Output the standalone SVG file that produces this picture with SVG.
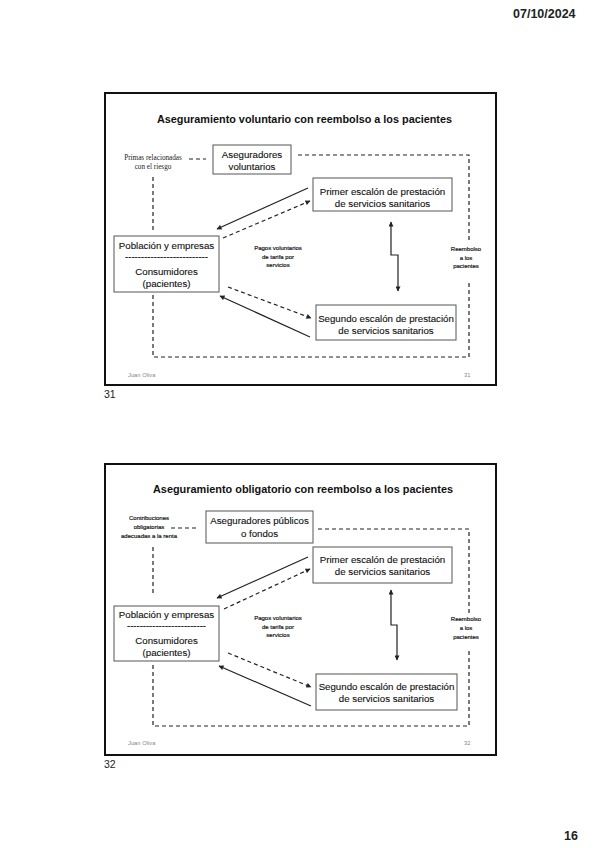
<svg xmlns="http://www.w3.org/2000/svg" width="599" height="848" viewBox="0 0 599 848">
<style>
.frame{fill:#fff;stroke:#111;stroke-width:2}
.box{fill:#fff;stroke:#555;stroke-width:1}
.title{font-family:"Liberation Sans",Arial,sans-serif;font-weight:bold;font-size:10.5px;fill:#111;text-anchor:middle}
.bt{font-family:"Liberation Sans",Arial,sans-serif;font-size:9.7px;fill:#111;text-anchor:middle;stroke:#111;stroke-width:0.12}
.sm{font-family:"Liberation Sans",Arial,sans-serif;font-size:6px;fill:#111;text-anchor:middle;stroke:#111;stroke-width:0.18}
.serif{font-family:"Liberation Serif","Times New Roman",serif;font-size:7.2px;fill:#222;text-anchor:middle}
.foot{font-family:"Liberation Sans",Arial,sans-serif;font-size:5.8px;fill:#888}
.pg{font-family:"Liberation Sans",Arial,sans-serif;font-size:10.5px;fill:#222}
.hdr{font-family:"Liberation Sans",Arial,sans-serif;font-weight:bold;font-size:12.5px;fill:#222}
.dash{fill:none;stroke:#222;stroke-width:1.2;stroke-dasharray:4 3}
.sol{fill:none;stroke:#222;stroke-width:1.2}
</style>
<defs>
<marker id="ah" viewBox="0 0 10 10" refX="9" refY="5" markerWidth="6" markerHeight="5" markerUnits="userSpaceOnUse" orient="auto-start-reverse">
<path d="M0,0 L10,5 L0,10 z" fill="#222"/>
</marker>
</defs>
<rect width="599" height="848" fill="#fff"/>
<text class="hdr" x="513" y="18">07/10/2024</text>
<text class="hdr" x="564" y="840" font-size="12px">16</text>

<!-- Slide 31 -->
<g id="slide31">
<rect class="frame" x="105" y="93" width="391" height="292"/>
<text class="title" x="304.5" y="123" textLength="295" lengthAdjust="spacingAndGlyphs">Aseguramiento voluntario con reembolso a los pacientes</text>
<text class="foot" x="128" y="377">Juan Oliva</text>
<text class="foot" x="464" y="377" font-size="5px">31</text>
</g>
<text class="pg" x="104" y="398">31</text>

<g id="s1-connectors">
<line class="dash" x1="189" y1="159" x2="206" y2="159"/>
<line class="dash" x1="153" y1="177" x2="153" y2="231"/>
<polyline class="dash" points="153,295 153,357 469,357 469,280"/>
<polyline class="dash" points="469,240 469,155 298,155"/>
<polyline class="sol" points="391,222 391,255 398,255 398,291" marker-start="url(#ah)" marker-end="url(#ah)"/>
<line class="sol" x1="308" y1="188" x2="217" y2="229" marker-end="url(#ah)"/>
<line class="dash" x1="223" y1="238" x2="310" y2="201" marker-end="url(#ah)"/>
<line class="dash" x1="228" y1="287" x2="311" y2="318" marker-end="url(#ah)"/>
<line class="sol" x1="310" y1="337" x2="220" y2="296" marker-end="url(#ah)"/>
</g>

<g id="s1-aseguradores">
<rect class="box" x="213" y="145" width="78" height="29"/>
<text class="bt" x="252" y="158" font-size="10.3px">Aseguradores</text>
<text class="bt" x="252" y="169.5" font-size="10.3px">voluntarios</text>
</g>
<g id="s1-primas">
<text class="serif" x="153" y="160">Primas relacionadas</text>
<text class="serif" x="153" y="169">con el riesgo</text>
</g>
<g id="s1-poblacion">
<rect class="box" x="114" y="236" width="105" height="56"/>
<text class="bt" x="166.5" y="248.5">Población y empresas</text>
<text class="bt" x="166.5" y="260" textLength="83" lengthAdjust="spacingAndGlyphs">--------------------------</text>
<text class="bt" x="166.5" y="275">Consumidores</text>
<text class="bt" x="166.5" y="286.5">(pacientes)</text>
</g>
<g id="s1-primer">
<rect class="box" x="313" y="178" width="139" height="33"/>
<text class="bt" x="382.5" y="195">Primer escalón de prestación</text>
<text class="bt" x="382.5" y="206.5">de servicios sanitarios</text>
</g>
<g id="s1-segundo">
<rect class="box" x="316" y="305" width="140" height="35"/>
<text class="bt" x="386" y="322">Segundo escalón de prestación</text>
<text class="bt" x="386" y="333.5">de servicios sanitarios</text>
</g>
<g id="s1-pagos">
<text class="sm" x="278" y="250">Pagos voluntarios</text>
<text class="sm" x="278" y="258.5">de tarifa por</text>
<text class="sm" x="278" y="267">servicios</text>
</g>
<g id="s1-reembolso">
<text class="sm" x="466" y="251" font-size="6.5px">Reembolso</text>
<text class="sm" x="466" y="259.5" font-size="6.5px">a los</text>
<text class="sm" x="466" y="268" font-size="6.5px">pacientes</text>
</g>

<!-- Slide 32 -->
<g id="slide32">
<rect class="frame" x="105" y="464" width="391" height="291"/>
<text class="title" x="303" y="493" textLength="300" lengthAdjust="spacingAndGlyphs">Aseguramiento obligatorio con reembolso a los pacientes</text>
<text class="foot" x="128" y="745">Juan Oliva</text>
<text class="foot" x="464" y="745" font-size="5px">32</text>
</g>
<text class="pg" x="104" y="768">32</text>

<g id="s2-connectors">
<line class="dash" x1="171" y1="528" x2="197" y2="528"/>
<line class="dash" x1="153" y1="547" x2="153" y2="596"/>
<polyline class="dash" points="153,665 153,726 469,726 469,648"/>
<polyline class="dash" points="469,613 469,529 318,529"/>
<polyline class="sol" points="391,590 391,625 397,625 397,660" marker-start="url(#ah)" marker-end="url(#ah)"/>
<line class="sol" x1="308" y1="557" x2="217" y2="598" marker-end="url(#ah)"/>
<line class="dash" x1="224" y1="609" x2="310" y2="569" marker-end="url(#ah)"/>
<line class="dash" x1="228" y1="653" x2="311" y2="687" marker-end="url(#ah)"/>
<line class="sol" x1="311" y1="706" x2="219" y2="666" marker-end="url(#ah)"/>
</g>

<g id="s2-aseguradores">
<rect class="box" x="206" y="511" width="107" height="32"/>
<text class="bt" x="259.5" y="524" font-size="10px">Aseguradores públicos</text>
<text class="bt" x="259.5" y="537" font-size="10px">o fondos</text>
</g>
<g id="s2-contribuciones">
<text class="sm" x="149" y="520">Contribuciones</text>
<text class="sm" x="149" y="529">obligatorias</text>
<text class="sm" x="149" y="538">adecuadas a la renta</text>
</g>
<g id="s2-poblacion">
<rect class="box" x="114" y="606" width="105" height="55"/>
<text class="bt" x="166.5" y="618">Población y empresas</text>
<text class="bt" x="166.5" y="629" textLength="79" lengthAdjust="spacingAndGlyphs">-------------------------</text>
<text class="bt" x="166.5" y="644">Consumidores</text>
<text class="bt" x="166.5" y="656">(pacientes)</text>
</g>
<g id="s2-primer">
<rect class="box" x="313" y="547" width="139" height="36"/>
<text class="bt" x="382.5" y="562.5">Primer escalón de prestación</text>
<text class="bt" x="382.5" y="575">de servicios sanitarios</text>
</g>
<g id="s2-segundo">
<rect class="box" x="316" y="674" width="141" height="36"/>
<text class="bt" x="386.5" y="689.5">Segundo escalón de prestación</text>
<text class="bt" x="386.5" y="702">de servicios sanitarios</text>
</g>
<g id="s2-pagos">
<text class="sm" x="278" y="620">Pagos voluntarios</text>
<text class="sm" x="278" y="628.5">de tarifa por</text>
<text class="sm" x="278" y="637">servicios</text>
</g>
<g id="s2-reembolso">
<text class="sm" x="466" y="621" font-size="6.5px">Reembolso</text>
<text class="sm" x="466" y="630" font-size="6.5px">a los</text>
<text class="sm" x="466" y="639" font-size="6.5px">pacientes</text>
</g>
</svg>
